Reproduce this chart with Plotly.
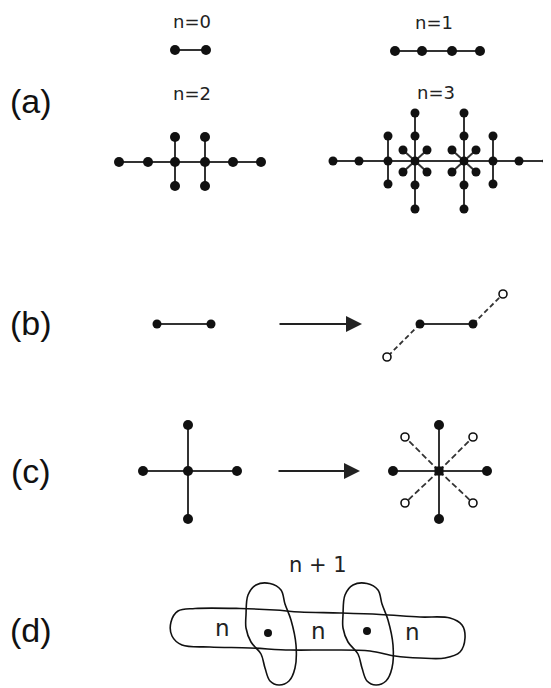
import plotly.graph_objects as go

# ---------------- data (diagram node positions, pixel space) ----------------
panel_labels = ["(a)", "(b)", "(c)", "(d)"]
panel_label_x = [31, 31, 31, 31]
panel_label_y = [101, 323, 471, 630]

gen_labels = ["n=0", "n=1", "n=2", "n=3"]
gen_label_x = [192, 434, 192, 436]
gen_label_y = [21, 22, 93, 92]

# n = 0
n0_x = [175, 206]
n0_y = [50, 50]
n0_edges = [(0, 1)]

# n = 1
n1_x = [395, 422, 452, 480]
n1_y = [51, 51, 51, 51]
n1_edges = [(0, 3)]

# n = 2
n2_x = [119, 148, 175, 205, 233, 261, 175, 175, 205, 205]
n2_y = [162, 162, 162, 162, 162, 162, 137, 186, 137, 186]
n2_edges = [(0, 5), (6, 7), (8, 9)]

# n = 3
n3_x = [333, 359, 388, 415, 464, 493, 519, 547,
        388, 388, 415, 415, 415, 415, 464, 464, 464, 464, 493, 493,
        403, 427, 403, 427, 452, 476, 452, 476]
n3_y = [161, 161, 161, 161, 161, 161, 161, 161,
        136, 184, 113, 136, 185, 209, 113, 136, 185, 209, 136, 184,
        150, 150, 172, 172, 150, 150, 172, 172]
n3_edges = [(0, 7), (8, 9), (10, 13), (14, 17), (18, 19),
            (3, 20), (3, 21), (3, 22), (3, 23),
            (4, 24), (4, 25), (4, 26), (4, 27)]

# (b) bond -> bond with two new (open) neighbours
b_left_x = [157, 211]
b_left_y = [324, 324]
b_right_x = [420, 473]
b_right_y = [324, 324]
b_open_x = [387, 503]
b_open_y = [357, 294]
b_arrow_x = [278, 362]
b_arrow_y = [324, 324]

# (c) cross -> star with four new (open) neighbours
c_left_cx, c_left_cy = 188, 471
c_left_arm_x = [143, 237, 188, 188]
c_left_arm_y = [471, 471, 425, 519]
c_right_cx, c_right_cy = 439, 471
c_right_arm_x = [393, 487, 439, 439]
c_right_arm_y = [471, 471, 425, 519]
c_open_x = [405, 473, 405, 473]
c_open_y = [437, 437, 503, 503]
c_arrow_x = [277, 360]
c_arrow_y = [471, 471]

# (d) outlines (control points of closed curves)
d_h_x = [300, 340, 380, 420, 450, 462, 465, 460, 445, 420, 395, 370, 330, 290,
         250, 210, 182, 172, 171, 178, 195, 240, 275, 300]
d_h_y = [612, 613, 614.5, 617, 618, 625, 638, 652, 658, 658, 656, 651, 650, 650,
         648, 647, 645, 636, 622, 611, 608.5, 608.5, 610, 612]
d_v_x = [246, 248, 256, 270, 281, 285, 291, 296, 295, 289, 279, 270, 265, 261,
         251, 246, 246]
d_v_y = [615, 595, 585, 583.5, 590, 604, 620, 645, 668, 681, 685, 681, 668, 654,
         642, 628, 615]
d_v_shift = 97
d_dot_x = [268, 367]
d_dot_y = [633, 631]
d_text = ["n + 1", "n", "n", "n"]
d_text_x = [318, 222, 318, 412]
d_text_y = [565, 628, 631, 632]

LINE = "#333333"
DOT = "#111111"
FONT = "Liberation Sans, Arial, Helvetica, sans-serif"
FONT2 = "DejaVu Sans, Verdana, sans-serif"
OFF = 8  # page body margin compensation

fig = go.Figure()


def add_edges(xs, ys, edges, width=2.0, dash="solid", color=LINE):
    ex, ey = [], []
    for a, b in edges:
        ex += [xs[a], xs[b], None]
        ey += [ys[a], ys[b], None]
    fig.add_trace(go.Scatter(x=ex, y=ey, mode="lines",
                             line=dict(color=color, width=width, dash=dash),
                             hoverinfo="skip"))


def add_dots(xs, ys, size=10, symbol="circle", open_=False):
    if open_:
        marker = dict(size=size, color="white", symbol=symbol,
                      line=dict(color=DOT, width=1.6))
    else:
        marker = dict(size=size, color=DOT, symbol=symbol, line=dict(width=0))
    fig.add_trace(go.Scatter(x=xs, y=ys, mode="markers", marker=marker,
                             hoverinfo="skip"))


# (a)
for xs, ys, es, s in [(n0_x, n0_y, n0_edges, 10), (n1_x, n1_y, n1_edges, 10),
                      (n2_x, n2_y, n2_edges, 10), (n3_x, n3_y, n3_edges, 9)]:
    add_edges(xs, ys, es)
    add_dots(xs, ys, size=s)

# (b)
add_edges(b_left_x, b_left_y, [(0, 1)])
add_dots(b_left_x, b_left_y, 9)
add_edges(b_right_x + b_open_x, b_right_y + b_open_y, [(0, 2), (1, 3)],
          width=1.8, dash="5px,3px")
add_edges(b_right_x, b_right_y, [(0, 1)])
add_dots(b_right_x, b_right_y, 9)
add_dots(b_open_x, b_open_y, 8, open_=True)

# (c)
lx = [c_left_cx] + c_left_arm_x
ly = [c_left_cy] + c_left_arm_y
add_edges(lx, ly, [(0, 1), (0, 2), (0, 3), (0, 4)])
add_dots(lx, ly, 10)
rx = [c_right_cx] + c_right_arm_x + c_open_x
ry = [c_right_cy] + c_right_arm_y + c_open_y
add_edges(rx, ry, [(0, 5), (0, 6), (0, 7), (0, 8)], width=1.8, dash="6px,3px")
add_edges(rx, ry, [(0, 1), (0, 2), (0, 3), (0, 4)])
add_dots(c_right_arm_x, c_right_arm_y, 10)
add_dots([c_right_cx], [c_right_cy], 9, symbol="square")
add_dots(c_open_x, c_open_y, 8, open_=True)

# (d)
curve = dict(color="#111", width=1.6, shape="spline", smoothing=1.0)
fig.add_trace(go.Scatter(x=d_h_x, y=d_h_y, mode="lines", line=curve, hoverinfo="skip"))
for k in range(2):
    fig.add_trace(go.Scatter(x=[v + k * d_v_shift for v in d_v_x], y=d_v_y,
                             mode="lines", line=curve, hoverinfo="skip"))
add_dots(d_dot_x, d_dot_y, 8)

# arrows
for axs, ays in [(b_arrow_x, b_arrow_y), (c_arrow_x, c_arrow_y)]:
    fig.add_annotation(x=axs[1], y=ays[1], ax=axs[0], ay=ays[0],
                       xref="x", yref="y", axref="x", ayref="y",
                       text="", showarrow=True, arrowhead=2, arrowsize=1.6,
                       arrowwidth=2, arrowcolor="#222", standoff=0)

# texts
for t, x, y in zip(panel_labels, panel_label_x, panel_label_y):
    fig.add_annotation(x=x, y=y, text=t, showarrow=False, xref="x", yref="y",
                       font=dict(family=FONT, size=34, color="#111"))
for t, x, y in zip(gen_labels, gen_label_x, gen_label_y):
    fig.add_annotation(x=x, y=y, text=t, showarrow=False, xref="x", yref="y",
                       font=dict(family=FONT2, size=18, color="#222"))
for i, (t, x, y) in enumerate(zip(d_text, d_text_x, d_text_y)):
    fig.add_annotation(x=x, y=y, text=t, showarrow=False, xref="x", yref="y",
                       font=dict(family=FONT2, size=21 if i == 0 else 23, color="#222"))

fig.update_layout(
    width=551, height=688, margin=dict(l=0, r=0, t=0, b=0),
    paper_bgcolor="white", plot_bgcolor="white", showlegend=False,
    xaxis=dict(range=[OFF, 551 + OFF], visible=False, fixedrange=True),
    yaxis=dict(range=[688 + OFF, OFF], visible=False, fixedrange=True),
)

fig.write_html("out.html")
